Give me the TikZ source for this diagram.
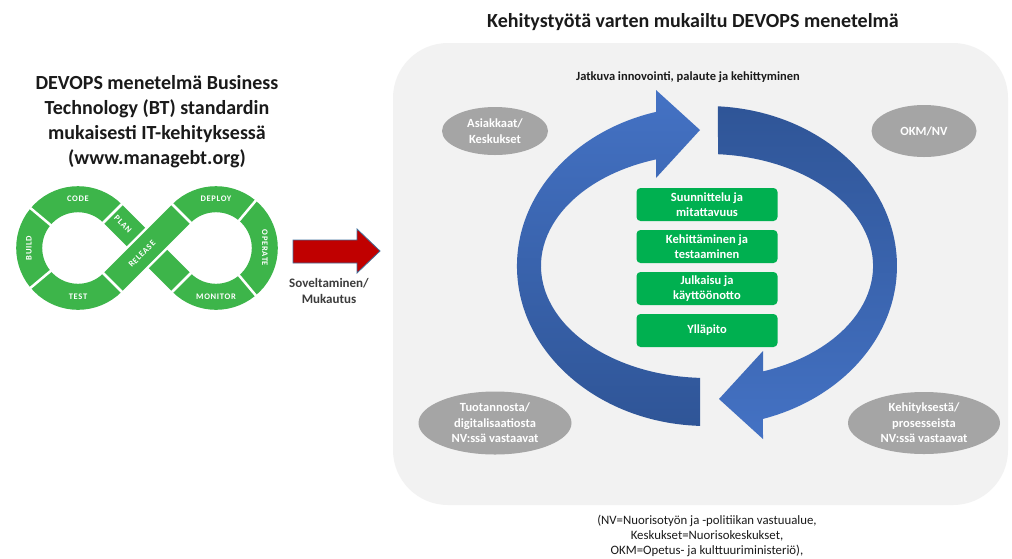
\documentclass[tikz,border=0pt]{standalone}
\usepackage{fontspec}
\setmainfont{Carlito}
\newfontfamily\logofont[LetterSpace=8]{Carlito}
\usetikzlibrary{positioning,shapes.geometric}
\definecolor{ink}       {HTML}{1A1A1A}
\definecolor{devgreen}  {HTML}{3DB54A}
\definecolor{stagegreen}{HTML}{00B050}
\definecolor{panelgray} {HTML}{F2F2F2}
\definecolor{actorgray} {HTML}{A5A5A5}
\definecolor{loopdark}  {HTML}{2F5597}
\definecolor{looplight} {HTML}{4472C4}
\definecolor{arrowred}  {HTML}{C00000}
\definecolor{arrowedge} {HTML}{41719C}
\tikzset{
  % --- nodes
  heading/.style = {font=\fontsize{20}{25}\selectfont\bfseries, text=ink, align=center},
  caption/.style = {font=\fontsize{12.5}{15}\selectfont\bfseries, text=ink, align=center},
  adaptlbl/.style= {font=\fontsize{13}{16}\selectfont\bfseries, text=ink!85, align=center},
  stage/.style   = {rounded corners=4pt, fill=stagegreen, text=white, align=center,
                    minimum width=141pt, minimum height=33pt, inner sep=0pt,
                    font=\fontsize{12.5}{15}\selectfont\bfseries},
  actor/.style   = {ellipse, fill=actorgray, text=white, align=center, inner sep=0pt,
                    font=\fontsize{12.5}{15.5}\selectfont\bfseries},
  logolbl/.style = {text=white, inner sep=0pt, font=\logofont\fontsize{8.5}{9}\selectfont\bfseries},
  note/.style    = {font=\fontsize{12.8}{15}\selectfont, text=ink, align=center},
  % --- strokes
  band/.style    = {draw=devgreen, line width=26pt},
  cut/.style     = {draw=white, line width=2.5pt},
}

\begin{document}
\begin{tikzpicture}[x=1pt,y=-1pt]
  \useasboundingbox[fill=white] (0,0) rectangle (1012,558);

  % left side: BT devops loop
  \node[heading] (bttitle) at (157,122)
    {DEVOPS menetelmä Business\\Technology (BT) standardin\\mukaisesti IT-kehityksessä\\(www.managebt.org)};
  \coordinate (lc) at (78,248);
  \coordinate (rc) at (216,248);
  \coordinate (xc) at (147,248);
  \draw[band] (lc) ++(45:48.8) arc[start angle=45, end angle=315, radius=48.8];
  \draw[band] (rc) ++(-135:48.8) arc[start angle=-135, end angle=135, radius=48.8];
  \draw[band] (xc) ++(-34.5,-34.5) -- ++(69,69);
  \draw[draw=white, line width=31pt] (xc) ++(-14,14) -- ++(28,-28);
  \draw[band] (xc) ++(-34.5,34.5) -- ++(69,-69);
  \foreach \a in {45,140,220,315}
    \draw[cut] (lc) ++(\a:33) -- ++(\a:31.6);
  \foreach \a in {-135,-50,50,135}
    \draw[cut] (rc) ++(\a:33) -- ++(\a:31.6);
  \foreach \nm/\pos/\rot in {CODE/{78,199}/0, BUILD/{29,248}/90, TEST/{78,297}/0,
                             PLAN/{123,224}/-45, RELEASE/{142,254}/45, DEPLOY/{216,199}/0,
                             OPERATE/{265,248}/-90, MONITOR/{216,297}/0}
    \node[logolbl, rotate=\rot] (lbl-\nm) at (\pos) {\nm};

  % red arrow
  \filldraw[fill=arrowred, draw=arrowedge, line width=0.8pt]
    (293,240) -- (357,240) -- (357,229) -- (380,251) -- (357,273) -- (357,263) -- (293,263) -- cycle;
  \node[adaptlbl] (adapt) at (329,291) {Soveltaminen/\\Mukautus};

  % right side: panel
  \node[heading] (mtitle) at (693,22) {Kehitystyötä varten mukailtu DEVOPS menetelmä};
  \fill[panelgray, rounded corners=55pt] (393,43) rectangle (1008,505);
  \node[caption] (cont) at (688,77) {Jatkuva innovointi, palaute ja kehittyminen};

  % circular arrows
  \shade[top color=looplight, bottom color=loopdark]
    (700,425.9) arc[start angle=92.1, end angle=254.45, x radius=190, y radius=160]
    -- (656,90) -- (700,130) -- (656,178) -- (656,159.4)
    arc[start angle=252.1, end angle=92.4, x radius=166, y radius=112] -- cycle;
  \shade[top color=loopdark, bottom color=looplight]
    (717.9,106.3) arc[start angle=-86.7, end angle=72.86, x radius=190, y radius=160]
    -- (763,439) -- (719,399) -- (763,351) -- (763,371.4)
    arc[start angle=70.3, end angle=-86.2, x radius=166, y radius=112] -- cycle;

  % stages
  \foreach \i/\txt in {0/{Suunnittelu ja\\mitattavuus}, 1/{Kehittäminen ja\\testaaminen},
                       2/{Julkaisu ja\\käyttöönotto}, 3/{Ylläpito}} {
    \pgfmathsetmacro{\y}{204.5+\i*42}
    \node[stage] (stage\i) at (707,\y) {\txt};
  }

  % actors
  \node[actor, minimum width=106pt, minimum height=48pt] (asiakkaat) at (495,131) {Asiakkaat/\\Keskukset};
  \node[actor, minimum width=105pt, minimum height=52pt] (okm) at (924,131) {OKM/NV};
  \node[actor, minimum width=153pt, minimum height=63pt] (tuotanto) at (495,423)
    {Tuotannosta/\\digitalisaatiosta\\NV:ssä vastaavat};
  \node[actor, minimum width=152pt, minimum height=62pt] (kehitys) at (924,423)
    {Kehityksestä/\\prosesseista\\NV:ssä vastaavat};

  \node[note] (legend) at (707,536)
    {(NV=Nuorisotyön ja -politiikan vastuualue,\\Keskukset=Nuorisokeskukset,\\OKM=Opetus- ja kulttuuriministeriö),};
\end{tikzpicture}
\end{document}
